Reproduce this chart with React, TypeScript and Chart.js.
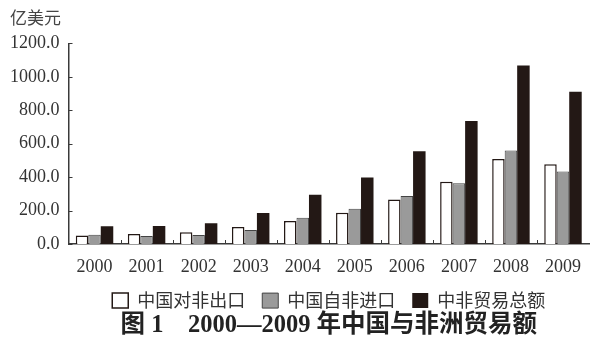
import { useEffect, useRef } from 'react';
import { Chart, registerables } from 'chart.js';

Chart.register(...registerables);

const categories = ['2000', '2001', '2002', '2003', '2004', '2005', '2006', '2007', '2008', '2009'];
const exportsToAfrica = [50.4, 60.1, 69.6, 101.8, 138.2, 186.8, 266.9, 373.1, 508.4, 477.4];
const importsFromAfrica = [55.4, 47.9, 54.3, 83.6, 156.4, 210.6, 287.7, 362.9, 560.0, 433.3];
const totalTrade = [105.9, 108.0, 123.9, 185.4, 294.6, 397.4, 554.6, 736.0, 1068.4, 910.7];
const seriesNames = ['中国对非出口', '中国自非进口', '中非贸易总额'];
const unitLabel = '亿美元';
const chartTitle = '图 1\u30002000—2009 年中国与非洲贸易额';

const INK = '#231815';
const AXIS = '#3a3a3a';
const SERIF = '"Liberation Serif", "Noto Sans CJK SC", serif';
const CJK = '"Noto Sans CJK SC", sans-serif';

const tickMarks = {
  id: 'tickMarks',
  afterDraw(chart: any) {
    const { ctx } = chart;
    const xs = chart.scales.x;
    const ys = chart.scales.y;
    ctx.save();
    ctx.strokeStyle = AXIS;
    ctx.lineWidth = 1;
    const n = categories.length;
    const w = (xs.right - xs.left) / n;
    for (let i = 1; i < n; i++) {
      const x = Math.round(xs.left + i * w) + 0.5;
      ctx.beginPath();
      ctx.moveTo(x, ys.bottom);
      ctx.lineTo(x, ys.bottom - 4);
      ctx.stroke();
    }
    ys.ticks.forEach((t: any) => {
      const y = Math.round(ys.getPixelForValue(t.value)) + 0.5;
      ctx.beginPath();
      ctx.moveTo(xs.left, y);
      ctx.lineTo(xs.left + 4, y);
      ctx.stroke();
    });
    ctx.restore();
  },
};

export default function App() {
  const ref = useRef<HTMLCanvasElement>(null);
  useEffect(() => {
    document.body.style.margin = '0';
    const chart = new Chart(ref.current!, {
      type: 'bar',
      data: {
        labels: categories,
        datasets: [
          {
            label: seriesNames[0],
            data: exportsToAfrica,
            backgroundColor: '#ffffff',
            borderColor: INK,
            borderWidth: 1.5,
          },
          {
            label: seriesNames[1],
            data: importsFromAfrica,
            backgroundColor: '#9a9a9a',
            borderColor: '#444444',
            borderWidth: 1,
          },
          {
            label: seriesNames[2],
            data: totalTrade,
            backgroundColor: INK,
            borderColor: INK,
            borderWidth: 0,
          },
        ],
      },
      plugins: [tickMarks],
      options: {
        animation: false,
        responsive: true,
        maintainAspectRatio: false,
        layout: { padding: { left: 10, right: 18, top: 6, bottom: 12 } },
        datasets: { bar: { categoryPercentage: 0.72, barPercentage: 1.0 } },
        scales: {
          x: {
            grid: { display: false, drawTicks: false },
            border: { display: true, color: AXIS, width: 1.5 },
            ticks: { padding: 12, color: '#333', font: { family: SERIF, size: 18 } },
            afterFit: (scale: any) => {
              scale.height -= 15;
            },
          },
          y: {
            min: 0,
            max: 1200,
            grid: { display: false, drawTicks: false },
            border: { display: true, color: AXIS, width: 1.5 },
            ticks: {
              stepSize: 200,
              padding: 9,
              color: '#333',
              font: { family: SERIF, size: 18 },
              callback: (v: any) => Number(v).toFixed(1),
            },
            afterFit: (scale: any) => {
              scale.width -= 9;
            },
          },
        },
        plugins: {
          tooltip: { enabled: false },
          subtitle: {
            display: true,
            text: unitLabel,
            position: 'top',
            align: 'start',
            color: '#444',
            font: { family: CJK, size: 17, weight: 'normal' },
            padding: { top: 1, bottom: 16 },
          },
          legend: {
            display: true,
            position: 'bottom',
            fullSize: false,
            labels: {
              boxWidth: 16,
              boxHeight: 15,
              padding: 17,
              color: '#333',
              font: { family: CJK, size: 18 },
            },
          },
          title: {
            display: true,
            position: 'bottom',
            fullSize: false,
            text: chartTitle,
            color: '#222',
            font: { family: SERIF, size: 24.5, weight: 'bold' },
            padding: { top: -9, bottom: 10 },
          },
        },
      },
    });
    return () => chart.destroy();
  }, []);
  return (
    <div style={{ position: 'relative', width: 607, height: 362, background: '#fff' }}>
      <canvas ref={ref} />
    </div>
  );
}
